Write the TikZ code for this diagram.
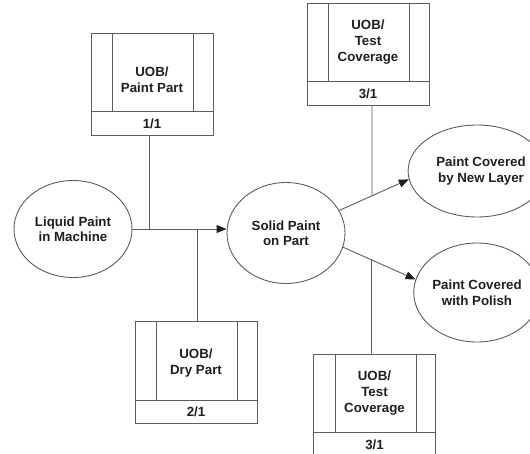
\documentclass[tikz,border=0pt]{standalone}
\usepackage{fontspec}
\setmainfont{Liberation Sans}
\usetikzlibrary{shapes.geometric,arrows.meta,calc,intersections}
\definecolor{ln}{gray}{0.36}
\definecolor{tx}{gray}{0.12}
\newcommand{\uobdraw}[5]{%
  \node[uobbox] (#1) at #2 {};
  \draw[line] ($(#1.north west)+(22,0)$) -- ($(#1.south west)+(22,-24)$);
  \draw[line] ($(#1.north east)+(-20,0)$) -- ($(#1.south east)+(-20,-24)$);
  \draw[line] ($(#1.south west)+(0,-24)$) -- ($(#1.south east)+(0,-24)$);
  \node[lbl] (#1-t) at ($(#1.center)+(0,#5)$) {#3};
  \node[lbl] (#1-n) at ($(#1.south)+(0,-12)$) {#4};
}
\begin{document}
\begin{tikzpicture}[x=1pt,y=-1pt,
  line/.style={draw=ln, line width=0.9pt},
  state/.style={ellipse, line, inner sep=0pt, align=center, text=tx,
    font=\bfseries\fontsize{13.3}{15.5}\selectfont},
  uobbox/.style={rectangle, line, minimum width=122pt, minimum height=102pt, inner sep=0pt},
  lbl/.style={align=center, text=tx, inner sep=0pt, font=\bfseries\fontsize{13.3}{16}\selectfont},
  arr/.style={line, -{Triangle[length=10pt,width=8pt,color=tx]}}]
\useasboundingbox (0,0) rectangle (530,453);
\clip (0,0) rectangle (530,453);

% states
\node[state, minimum width=118pt, minimum height=97pt] (lp) at (73,229) {Liquid Paint\\in Machine};
\node[state, minimum width=118pt, minimum height=101pt] (sp) at (286,233) {Solid Paint\\on Part};
\node[state, minimum width=108pt, minimum height=92pt] (nl) at (477,171) {\hspace*{8pt}Paint Covered\\\hspace*{8pt}by New Layer};
\node[state, minimum width=108pt, minimum height=99pt] (pc) at (477,292.5) {Paint Covered\\with Polish};

% UOB boxes
\uobdraw{pp}{(152,84)}{UOB/\\Paint Part}{1/1}{-4}
\uobdraw{tc1}{(368,54)}{UOB/\\Test\\Coverage}{3/1}{-12}
\uobdraw{dp}{(196,372.5)}{UOB/\\Dry Part}{2/1}{-9}
\uobdraw{tc2}{(374.5,405)}{UOB/\\Test\\Coverage}{3/1}{-12}

% main flow
\draw[arr] (lp.east) -- (lp.east -| sp.west);
\coordinate (s1) at ([xshift=-3pt]pp.south);
\draw[line] (s1) -- (s1 |- lp.east) coordinate (j1);
\coordinate (s2) at ([xshift=1pt]dp.north);
\draw[line] (s2) -- (s2 |- lp.east) coordinate (j2);

\draw[arr, name path=a1] (sp.23) -- (nl.187);
\draw[arr, name path=a2] (sp.346) -- (pc.168);

\coordinate (s3) at ([xshift=4pt]tc1.south);
\path[name path=v1] (s3) -- ++(0,150);
\draw[line, name intersections={of=a1 and v1, by=j3}] (s3) -- (j3);
\coordinate (s4) at ([xshift=-3pt]tc2.north);
\path[name path=v2] (s4) -- ++(0,-150);
\draw[line, name intersections={of=a2 and v2, by=j4}] (s4) -- (j4);
\end{tikzpicture}
\end{document}
